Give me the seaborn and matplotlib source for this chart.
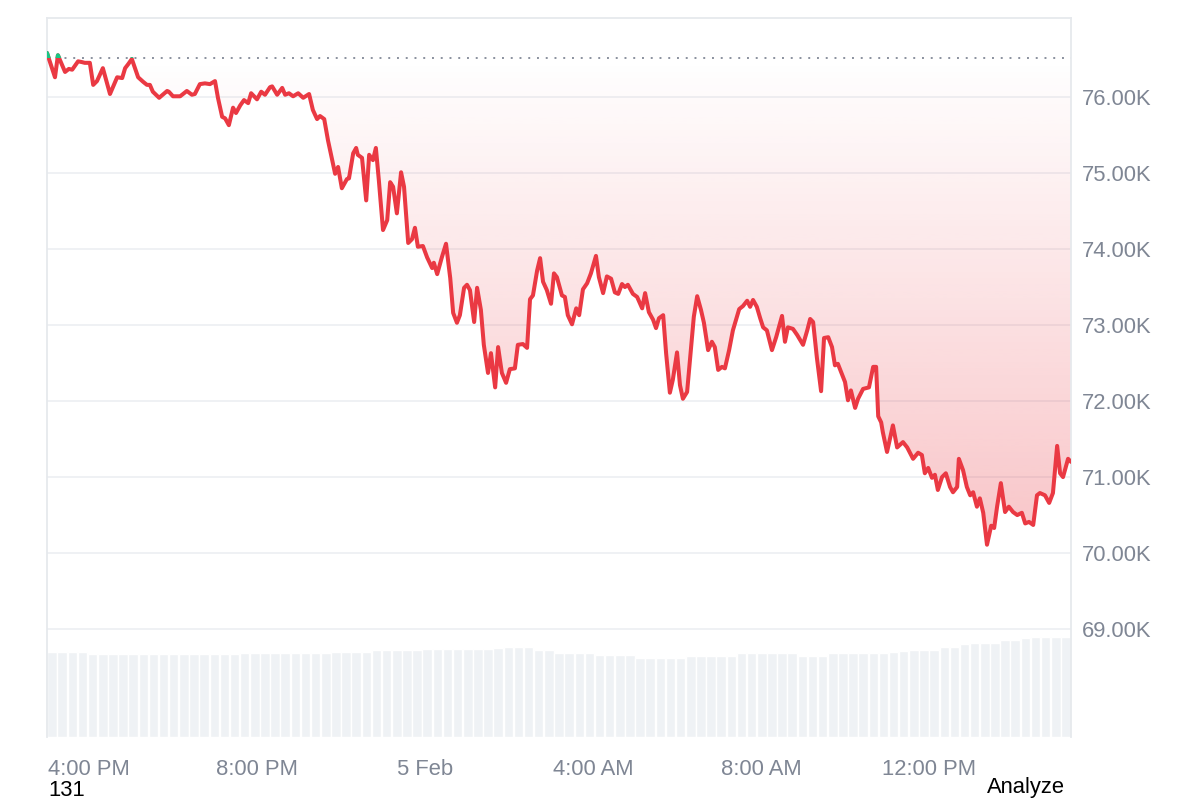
import numpy as np
import pandas as pd
import matplotlib
matplotlib.use("Agg")
import matplotlib.pyplot as plt
from matplotlib.colors import to_rgb
from matplotlib.patches import Rectangle
import seaborn as sns

# ---------------- DATOS ----------------
# horas transcurridas desde las 3:00 PM
horas = [0.00, 0.19, 0.26, 0.43, 0.52, 0.60, 0.74, 0.83, 0.90, 1.02,
         1.10, 1.19, 1.33, 1.50, 1.67, 1.79, 1.86, 1.93, 2.02, 2.17,
         2.29, 2.38, 2.45, 2.52, 2.67, 2.86, 2.90, 3.00, 3.17, 3.33,
         3.45, 3.52, 3.64, 3.76, 3.88, 4.00, 4.07, 4.17, 4.24, 4.33,
         4.43, 4.50, 4.60, 4.69, 4.79, 4.86, 5.00, 5.10, 5.19, 5.31,
         5.36, 5.48, 5.60, 5.67, 5.76, 5.86, 5.98, 6.10, 6.24, 6.33,
         6.43, 6.50, 6.60, 6.69, 6.86, 6.93, 7.02, 7.14, 7.19, 7.29,
         7.36, 7.40, 7.50, 7.60, 7.67, 7.76, 7.83, 7.90, 8.00, 8.10,
         8.17, 8.24, 8.33, 8.43, 8.50, 8.60, 8.69, 8.76, 8.83, 8.95,
         9.05, 9.17, 9.21, 9.29, 9.40, 9.50, 9.60, 9.67, 9.76, 9.83,
         9.93, 10.00, 10.07, 10.17, 10.24, 10.33, 10.40, 10.50, 10.57, 10.67,
         10.74, 10.83, 10.93, 11.02, 11.14, 11.21, 11.33, 11.43, 11.50, 11.57,
         11.67, 11.74, 11.81, 11.90, 12.00, 12.07, 12.14, 12.26, 12.33, 12.40,
         12.50, 12.60, 12.67, 12.76, 12.86, 12.95, 13.07, 13.14, 13.24, 13.33,
         13.43, 13.52, 13.60, 13.69, 13.76, 13.83, 13.95, 14.05, 14.17, 14.24,
         14.33, 14.43, 14.50, 14.57, 14.67, 14.74, 14.83, 14.90, 15.00, 15.07,
         15.14, 15.24, 15.33, 15.40, 15.48, 15.57, 15.64, 15.74, 15.83, 15.90,
         15.98, 16.07, 16.14, 16.24, 16.33, 16.48, 16.57, 16.67, 16.74, 16.81,
         16.90, 16.98, 17.05, 17.14, 17.26, 17.36, 17.50, 17.57, 17.64, 17.76,
         17.86, 18.00, 18.10, 18.17, 18.24, 18.33, 18.43, 18.50, 18.60, 18.69,
         18.76, 18.83, 18.95, 19.00, 19.07, 19.14, 19.24, 19.31, 19.43, 19.57,
         19.67, 19.74, 19.79, 19.86, 19.90, 20.00, 20.14, 20.24, 20.38, 20.48,
         20.62, 20.74, 20.83, 20.90, 20.98, 21.07, 21.14, 21.21, 21.31, 21.40,
         21.50, 21.57, 21.67, 21.71, 21.81, 21.90, 21.98, 22.05, 22.14, 22.21,
         22.29, 22.38, 22.48, 22.55, 22.62, 22.71, 22.81, 22.90, 23.00, 23.10,
         23.21, 23.29, 23.38, 23.48, 23.57, 23.64, 23.76, 23.86, 23.95, 24.05,
         24.12, 24.19, 24.31, 24.38]

# precio en miles de USD
precios_k = [76.58, 76.26, 76.55, 76.33, 76.37, 76.36, 76.47, 76.46, 76.45, 76.45,
             76.16, 76.21, 76.38, 76.04, 76.26, 76.25, 76.38, 76.43, 76.50, 76.26,
             76.20, 76.16, 76.16, 76.07, 75.99, 76.08, 76.07, 76.01, 76.01, 76.08,
             76.03, 76.04, 76.17, 76.18, 76.17, 76.21, 75.99, 75.74, 75.72, 75.63,
             75.86, 75.79, 75.89, 75.96, 75.92, 76.05, 75.97, 76.07, 76.03, 76.13,
             76.14, 76.03, 76.12, 76.03, 76.05, 76.01, 76.05, 75.99, 76.04, 75.83,
             75.71, 75.75, 75.71, 75.43, 74.99, 75.08, 74.80, 74.92, 74.93, 75.26,
             75.33, 75.24, 75.20, 74.64, 75.24, 75.17, 75.33, 74.91, 74.25, 74.38,
             74.88, 74.82, 74.47, 75.01, 74.82, 74.08, 74.13, 74.28, 74.03, 74.04,
             73.89, 73.75, 73.82, 73.67, 73.89, 74.07, 73.62, 73.16, 73.03, 73.13,
             73.49, 73.53, 73.46, 73.04, 73.49, 73.20, 72.74, 72.37, 72.63, 72.18,
             72.71, 72.37, 72.24, 72.42, 72.43, 72.74, 72.75, 72.70, 73.34, 73.39,
             73.72, 73.88, 73.57, 73.46, 73.28, 73.68, 73.63, 73.39, 73.37, 73.13,
             73.01, 73.22, 73.13, 73.47, 73.55, 73.68, 73.91, 73.63, 73.42, 73.64,
             73.61, 73.43, 73.41, 73.54, 73.50, 73.53, 73.41, 73.37, 73.22, 73.42,
             73.17, 73.07, 72.96, 73.09, 73.13, 72.63, 72.11, 72.28, 72.64, 72.21,
             72.03, 72.12, 72.67, 73.11, 73.38, 73.20, 73.03, 72.67, 72.78, 72.71,
             72.41, 72.45, 72.43, 72.67, 72.93, 73.21, 73.25, 73.32, 73.24, 73.33,
             73.24, 73.09, 72.97, 72.93, 72.67, 72.84, 73.12, 72.78, 72.97, 72.95,
             72.87, 72.74, 72.93, 73.08, 73.04, 72.57, 72.13, 72.83, 72.84, 72.71,
             72.47, 72.49, 72.32, 72.25, 72.01, 72.14, 71.91, 72.03, 72.16, 72.18,
             72.45, 72.45, 71.80, 71.72, 71.59, 71.33, 71.68, 71.39, 71.46, 71.39,
             71.24, 71.32, 71.29, 71.05, 71.12, 70.99, 71.03, 70.83, 71.00, 71.05,
             70.87, 70.80, 70.87, 71.24, 71.09, 70.87, 70.76, 70.80, 70.61, 70.72,
             70.53, 70.11, 70.36, 70.33, 70.61, 70.92, 70.54, 70.61, 70.54, 70.50,
             70.53, 70.39, 70.41, 70.37, 70.76, 70.79, 70.76, 70.66, 70.79, 71.41,
             71.05, 71.00, 71.24, 71.20]

precio_apertura_k = 76.51

# volumen (miles de millones USD), bloques de 15 min
volumen_bn = [42.5, 42.6, 42.4, 42.5,
              41.6, 41.4, 41.5, 41.5, 41.4, 41.6, 41.5, 41.5, 41.4, 41.5, 41.6, 41.5, 41.4, 41.5, 41.6,
              42.0, 41.9, 42.1, 42.0, 42.0,
              42.1, 42.0, 42.2, 42.2,
              42.5, 42.6, 42.5, 42.7,
              43.4, 43.5, 43.6, 43.5, 43.4,
              44.0, 44.1, 43.9, 44.0, 44.2, 44.1, 44.0,
              44.8, 45.0, 45.1, 44.9,
              43.6, 43.4,
              42.2, 42.0, 41.9, 42.0,
              41.1, 41.0, 40.9, 41.0,
              39.6, 39.4, 39.5, 39.5, 39.6,
              40.4, 40.5, 40.6, 40.5, 40.7,
              41.9, 42.0, 42.1, 42.0, 42.0, 41.9,
              40.6, 40.4, 40.5,
              41.9, 42.0, 42.1, 42.2, 42.1, 42.3, 42.4,
              43.3, 43.5, 43.6, 43.5,
              44.9, 45.1,
              46.7, 46.9, 47.1, 47.2,
              48.4, 48.6,
              49.8, 50.0, 50.0, 50.1, 50.0]

posiciones_x = [1, 5, 9, 13, 17, 21]
etiquetas_x = ['4:00 PM', '8:00 PM', '5 Feb', '4:00 AM', '8:00 AM', '12:00 PM']
niveles_y = [69, 70, 71, 72, 73, 74, 75, 76]

ROJO = '#ea3943'
VERDE = '#16c784'
GRIS_TXT = '#7f8694'
GRIS_GRID = '#eef0f3'
GRIS_VOL = '#eff2f5'


def setStyle_design():
    sns.set_theme(style="white")
    plt.rcParams['font.family'] = ['Liberation Sans', 'DejaVu Sans']


def graficar(df, df_vol):
    fig = plt.figure(figsize=(12, 8), dpi=100)
    rect = [47 / 1200, 63 / 800, 1024 / 1200, 719 / 800]

    # -------- volumen (eje de fondo) --------
    vax = fig.add_axes(rect)
    sns.barplot(data=df_vol, x='idx', y='vol', color=GRIS_VOL, saturation=1,
                width=0.94, ax=vax)
    vax.set_xlim(-0.5, len(volumen_bn) - 0.5)
    vax.set_ylim(0, 360)
    vax.axis('off')

    # -------- precio --------
    ax = fig.add_axes(rect)
    ax.patch.set_visible(False)
    xmax = horas[-1]
    ymin, ymax = 67.58, 77.04

    for nivel in niveles_y:
        ax.axhline(nivel, color=GRIS_GRID, lw=1.3, zorder=0)

    # relleno degradado entre la línea y el precio de apertura
    poly = ax.fill_between(df['hora'], df['precio'], precio_apertura_k,
                           facecolor='none', edgecolor='none')
    grad = np.zeros((256, 1, 4))
    grad[..., :3] = to_rgb(ROJO)
    grad[:, 0, 3] = np.linspace(0.30, 0.0, 256)
    im = ax.imshow(grad, extent=[0, xmax, 70.0, precio_apertura_k],
                   origin='lower', aspect='auto', zorder=1)
    im.set_clip_path(poly.get_paths()[0], transform=ax.transData)

    ax.axhline(precio_apertura_k, color='#8a919e', lw=1.4,
               linestyle=(0, (1, 3.5)), zorder=2)

    sns.lineplot(data=df, x='hora', y='precio', color=ROJO, lw=2.9,
                 ax=ax, zorder=3, sort=False)
    ax.lines[-1].set_solid_joinstyle('round')
    # tramo por encima de la apertura en verde
    sns.lineplot(data=df, x='hora', y='precio', color=VERDE, lw=2.9,
                 ax=ax, zorder=4, sort=False)
    ax.lines[-1].set_clip_path(Rectangle((0, precio_apertura_k), xmax, 5,
                                         transform=ax.transData))

    ax.set_xlim(0, xmax)
    ax.set_ylim(ymin, ymax)
    ax.set_xlabel('')
    ax.set_ylabel('')

    ax.yaxis.tick_right()
    ax.set_yticks(niveles_y)
    ax.set_yticklabels([f'{v:.2f}K' for v in niveles_y])
    ax.set_xticks(posiciones_x)
    ax.set_xticklabels(etiquetas_x)
    ax.tick_params(axis='y', length=0, pad=8, labelsize=15.8, colors=GRIS_TXT)
    ax.tick_params(axis='x', length=0, pad=16, labelsize=15.8, colors=GRIS_TXT)

    for lado in ['left', 'top', 'right']:
        ax.spines[lado].set_color('#e6e9ed')
        ax.spines[lado].set_linewidth(1.3)
    ax.spines['bottom'].set_visible(False)

    fig.text(48 / 1200, 9 / 800, '131', fontsize=15.8, color='black',
             ha='left', va='center')
    fig.text(1026 / 1200, 12 / 800, 'Analyze', fontsize=15.8, color='black',
             ha='center', va='center')

    fig.savefig('out.png', dpi=100)


def main():
    setStyle_design()
    df = pd.DataFrame({'hora': horas, 'precio': precios_k})
    df_vol = pd.DataFrame({'idx': range(len(volumen_bn)), 'vol': volumen_bn})
    graficar(df, df_vol)


if __name__ == '__main__':
    main()
